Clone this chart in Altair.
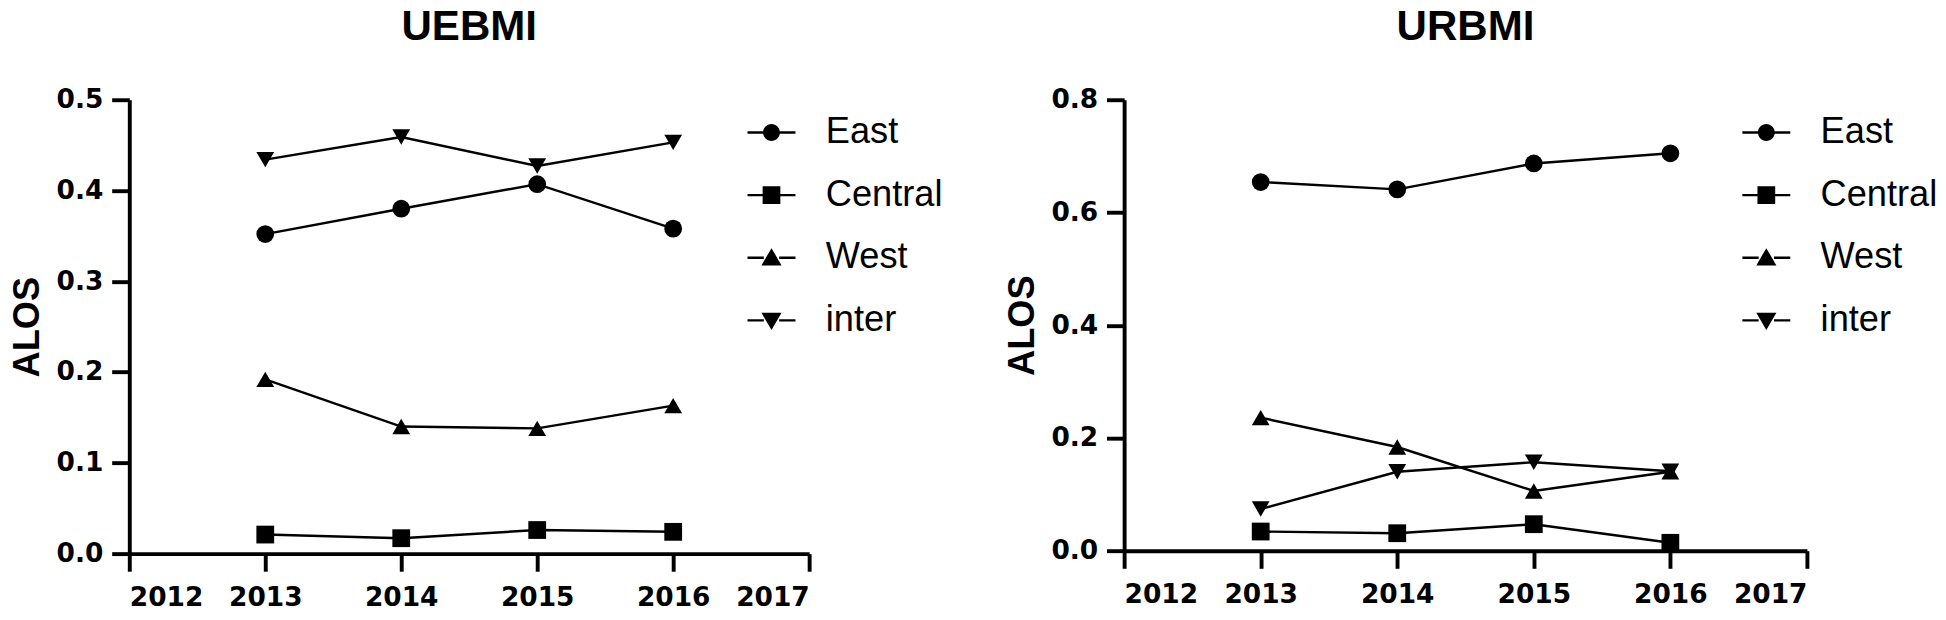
import altair as alt
import pandas as pd

years = [2013, 2014, 2015, 2016]
series = ["East", "Central", "West", "inter"]

uebmi_east = [0.352, 0.380, 0.407, 0.358]
uebmi_central = [0.021, 0.017, 0.026, 0.024]
uebmi_west = [0.192, 0.140, 0.138, 0.163]
uebmi_inter = [0.434, 0.459, 0.427, 0.453]

urbmi_east = [0.654, 0.641, 0.687, 0.705]
urbmi_central = [0.034, 0.031, 0.047, 0.014]
urbmi_west = [0.236, 0.184, 0.106, 0.140]
urbmi_inter = [0.074, 0.140, 0.157, 0.141]

x_ticks = [2012, 2013, 2014, 2015, 2016, 2017]
uebmi_y_ticks = [0.0, 0.1, 0.2, 0.3, 0.4, 0.5]
urbmi_y_ticks = [0.0, 0.2, 0.4, 0.6, 0.8]

plot_shapes = ["circle", "square", "triangle-up", "triangle-down"]
# legend glyphs: short line segments on both sides of the marker
_seg = "M-1,-0.05H-0.32V0.05H-1Z M0.32,-0.05H1V0.05H0.32Z "
legend_shapes = [
    _seg + "M-0.35,0A0.35,0.35,0,1,1,0.35,0A0.35,0.35,0,1,1,-0.35,0Z",
    _seg + "M-0.37,-0.37H0.37V0.37H-0.37Z",
    _seg + "M0,-0.4L0.42,0.32L-0.42,0.32Z",
    _seg + "M0,0.4L-0.42,-0.32L0.42,-0.32Z",
]


def make_df(values):
    rows = []
    for s, vals in zip(series, values):
        for y, v in zip(years, vals):
            rows.append({"year": y, "value": v, "series": s})
    return pd.DataFrame(rows)


TICK_FONT = "DejaVu Sans"
FONT = "Liberation Sans"


def panel(df, title, ymax, yticks, w, h):
    x = alt.X("year:Q", scale=alt.Scale(domain=[2012, 2017], nice=False, zero=False),
              axis=alt.Axis(values=x_ticks, format="d", title=None))
    y = alt.Y("value:Q", scale=alt.Scale(domain=[0, ymax], nice=False),
              axis=alt.Axis(values=yticks, format=".1f", title="ALOS"))
    base = alt.Chart(df)
    lines = base.mark_line(color="black", strokeWidth=2.5).encode(
        x=x, y=y, detail="series:N", order="year:Q")
    pts = base.mark_point(filled=True, color="black", size=330, opacity=1).encode(
        x=x, y=y,
        shape=alt.Shape("series:N", scale=alt.Scale(domain=series, range=plot_shapes), legend=None))
    leg = base.transform_filter("datum.year < 0").mark_point(
        filled=True, color="black", size=2401, opacity=1).encode(
        x=x, y=y,
        shape=alt.Shape("series:N", scale=alt.Scale(domain=series, range=legend_shapes),
                        legend=alt.Legend(
                            title=None, orient="none", legendX=631, legendY=8,
                            labelFont=FONT, labelFontSize=37, labelColor="black",
                            labelOffset=30, rowPadding=20, symbolSize=2401,
                            symbolFillColor="black", symbolOpacity=1)))
    return alt.layer(lines, pts, leg).resolve_scale(shape="independent").properties(
        width=w, height=h,
        title=alt.TitleParams(title, font=FONT, fontSize=43, fontWeight="bold",
                              anchor="middle", frame="group", offset=38, color="black"))


left = panel(make_df([uebmi_east, uebmi_central, uebmi_west, uebmi_inter]),
             "UEBMI", 0.5, uebmi_y_ticks, 695, 464)
right = panel(make_df([urbmi_east, urbmi_central, urbmi_west, urbmi_inter]),
              "URBMI", 0.8, urbmi_y_ticks, 698, 461)

chart = alt.hconcat(left, right, spacing=62).resolve_scale(
    shape="independent").resolve_legend(shape="independent").properties(
    padding={"left": 1, "top": -8, "right": 0, "bottom": 0}
).configure_view(stroke=None).configure_axis(
    grid=False, domainColor="black", domainWidth=4, tickColor="black", tickWidth=4,
    tickSize=18, labelFont=TICK_FONT, labelFontSize=27, labelFontWeight="bold",
    labelColor="black", titleFont=FONT, titleFontSize=37, titleFontWeight="bold",
    titleColor="black"
).configure_axisX(labelPadding=14).configure_axisY(labelPadding=9, titlePadding=10)

chart.save("out.html", embed_options={"renderer": "svg", "actions": False})
